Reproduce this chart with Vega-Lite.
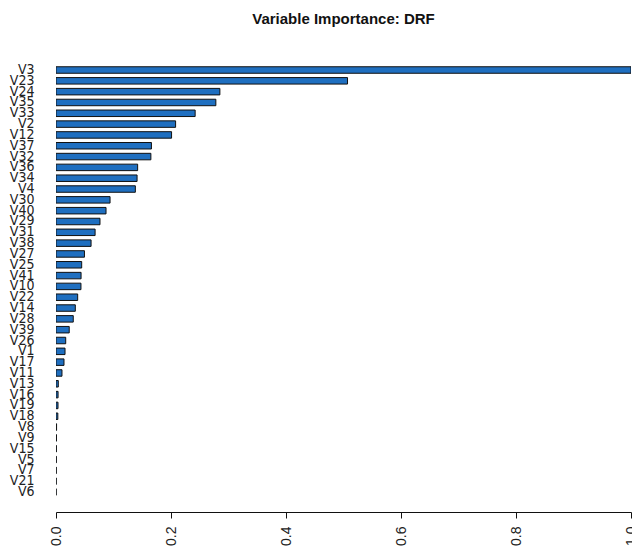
{
  "$schema": "https://vega.github.io/schema/vega-lite/v6.json",
  "autosize": {"type": "none"},
  "padding": {"left": 56, "top": 64.6, "right": 1, "bottom": 54.6},
  "width": 575,
  "height": 432.8,
  "background": "white",
  "title": {
    "text": "Variable Importance: DRF",
    "font": "Liberation Sans",
    "fontSize": 15,
    "fontWeight": "bold",
    "color": "#111",
    "anchor": "middle",
    "baseline": "alphabetic",
    "offset": 24
  },
  "config": {"view": {"stroke": null}},
  "data": {
    "values": [
      {"variable": "V3", "importance": 1.0},
      {"variable": "V23", "importance": 0.507},
      {"variable": "V24", "importance": 0.285},
      {"variable": "V35", "importance": 0.278},
      {"variable": "V33", "importance": 0.242},
      {"variable": "V2", "importance": 0.208},
      {"variable": "V12", "importance": 0.201},
      {"variable": "V37", "importance": 0.166},
      {"variable": "V32", "importance": 0.165},
      {"variable": "V36", "importance": 0.142},
      {"variable": "V34", "importance": 0.141},
      {"variable": "V4", "importance": 0.138},
      {"variable": "V30", "importance": 0.094},
      {"variable": "V40", "importance": 0.087},
      {"variable": "V29", "importance": 0.0765},
      {"variable": "V31", "importance": 0.068},
      {"variable": "V38", "importance": 0.061},
      {"variable": "V27", "importance": 0.0495},
      {"variable": "V25", "importance": 0.0447},
      {"variable": "V41", "importance": 0.0436},
      {"variable": "V10", "importance": 0.0434},
      {"variable": "V22", "importance": 0.0377},
      {"variable": "V14", "importance": 0.0336},
      {"variable": "V28", "importance": 0.030},
      {"variable": "V39", "importance": 0.023},
      {"variable": "V26", "importance": 0.0169},
      {"variable": "V1", "importance": 0.0157},
      {"variable": "V17", "importance": 0.0139},
      {"variable": "V11", "importance": 0.0104},
      {"variable": "V13", "importance": 0.004},
      {"variable": "V16", "importance": 0.0036},
      {"variable": "V19", "importance": 0.0035},
      {"variable": "V18", "importance": 0.0032},
      {"variable": "V8", "importance": 0.001},
      {"variable": "V9", "importance": 0.0008},
      {"variable": "V15", "importance": 0.0006},
      {"variable": "V5", "importance": 0.0005},
      {"variable": "V7", "importance": 0.0004},
      {"variable": "V21", "importance": 0.0003},
      {"variable": "V6", "importance": 0.0002}
    ]
  },
  "mark": {"type": "bar", "fill": "#1f6fc0", "stroke": "#111", "strokeWidth": 1, "clip": true},
  "encoding": {
    "y": {
      "field": "variable",
      "type": "nominal",
      "sort": null,
      "scale": {"paddingInner": 0.4, "paddingOuter": 0.2},
      "axis": {
        "title": null,
        "domain": false,
        "ticks": false,
        "labelPadding": 22,
        "labelFont": "DejaVu Sans Condensed, Liberation Sans, sans-serif",
        "labelFontSize": 14,
        "labelColor": "#222",
        "labelOverlap": false,
        "labelBound": false
      }
    },
    "x": {
      "field": "importance",
      "type": "quantitative",
      "scale": {"domain": [0, 1], "nice": false, "zero": true},
      "axis": {
        "title": null,
        "grid": false,
        "values": [0, 0.2, 0.4, 0.6, 0.8, 1.0],
        "format": ".1f",
        "offset": 14.6,
        "domainColor": "#111",
        "domainWidth": 1,
        "tickColor": "#111",
        "tickSize": 6,
        "labelAngle": -90,
        "labelPadding": 8,
        "labelFont": "Liberation Sans",
        "labelFontSize": 14,
        "labelColor": "#222",
        "labelOverlap": false,
        "labelFlush": false,
        "labelBound": false
      }
    }
  }
}
